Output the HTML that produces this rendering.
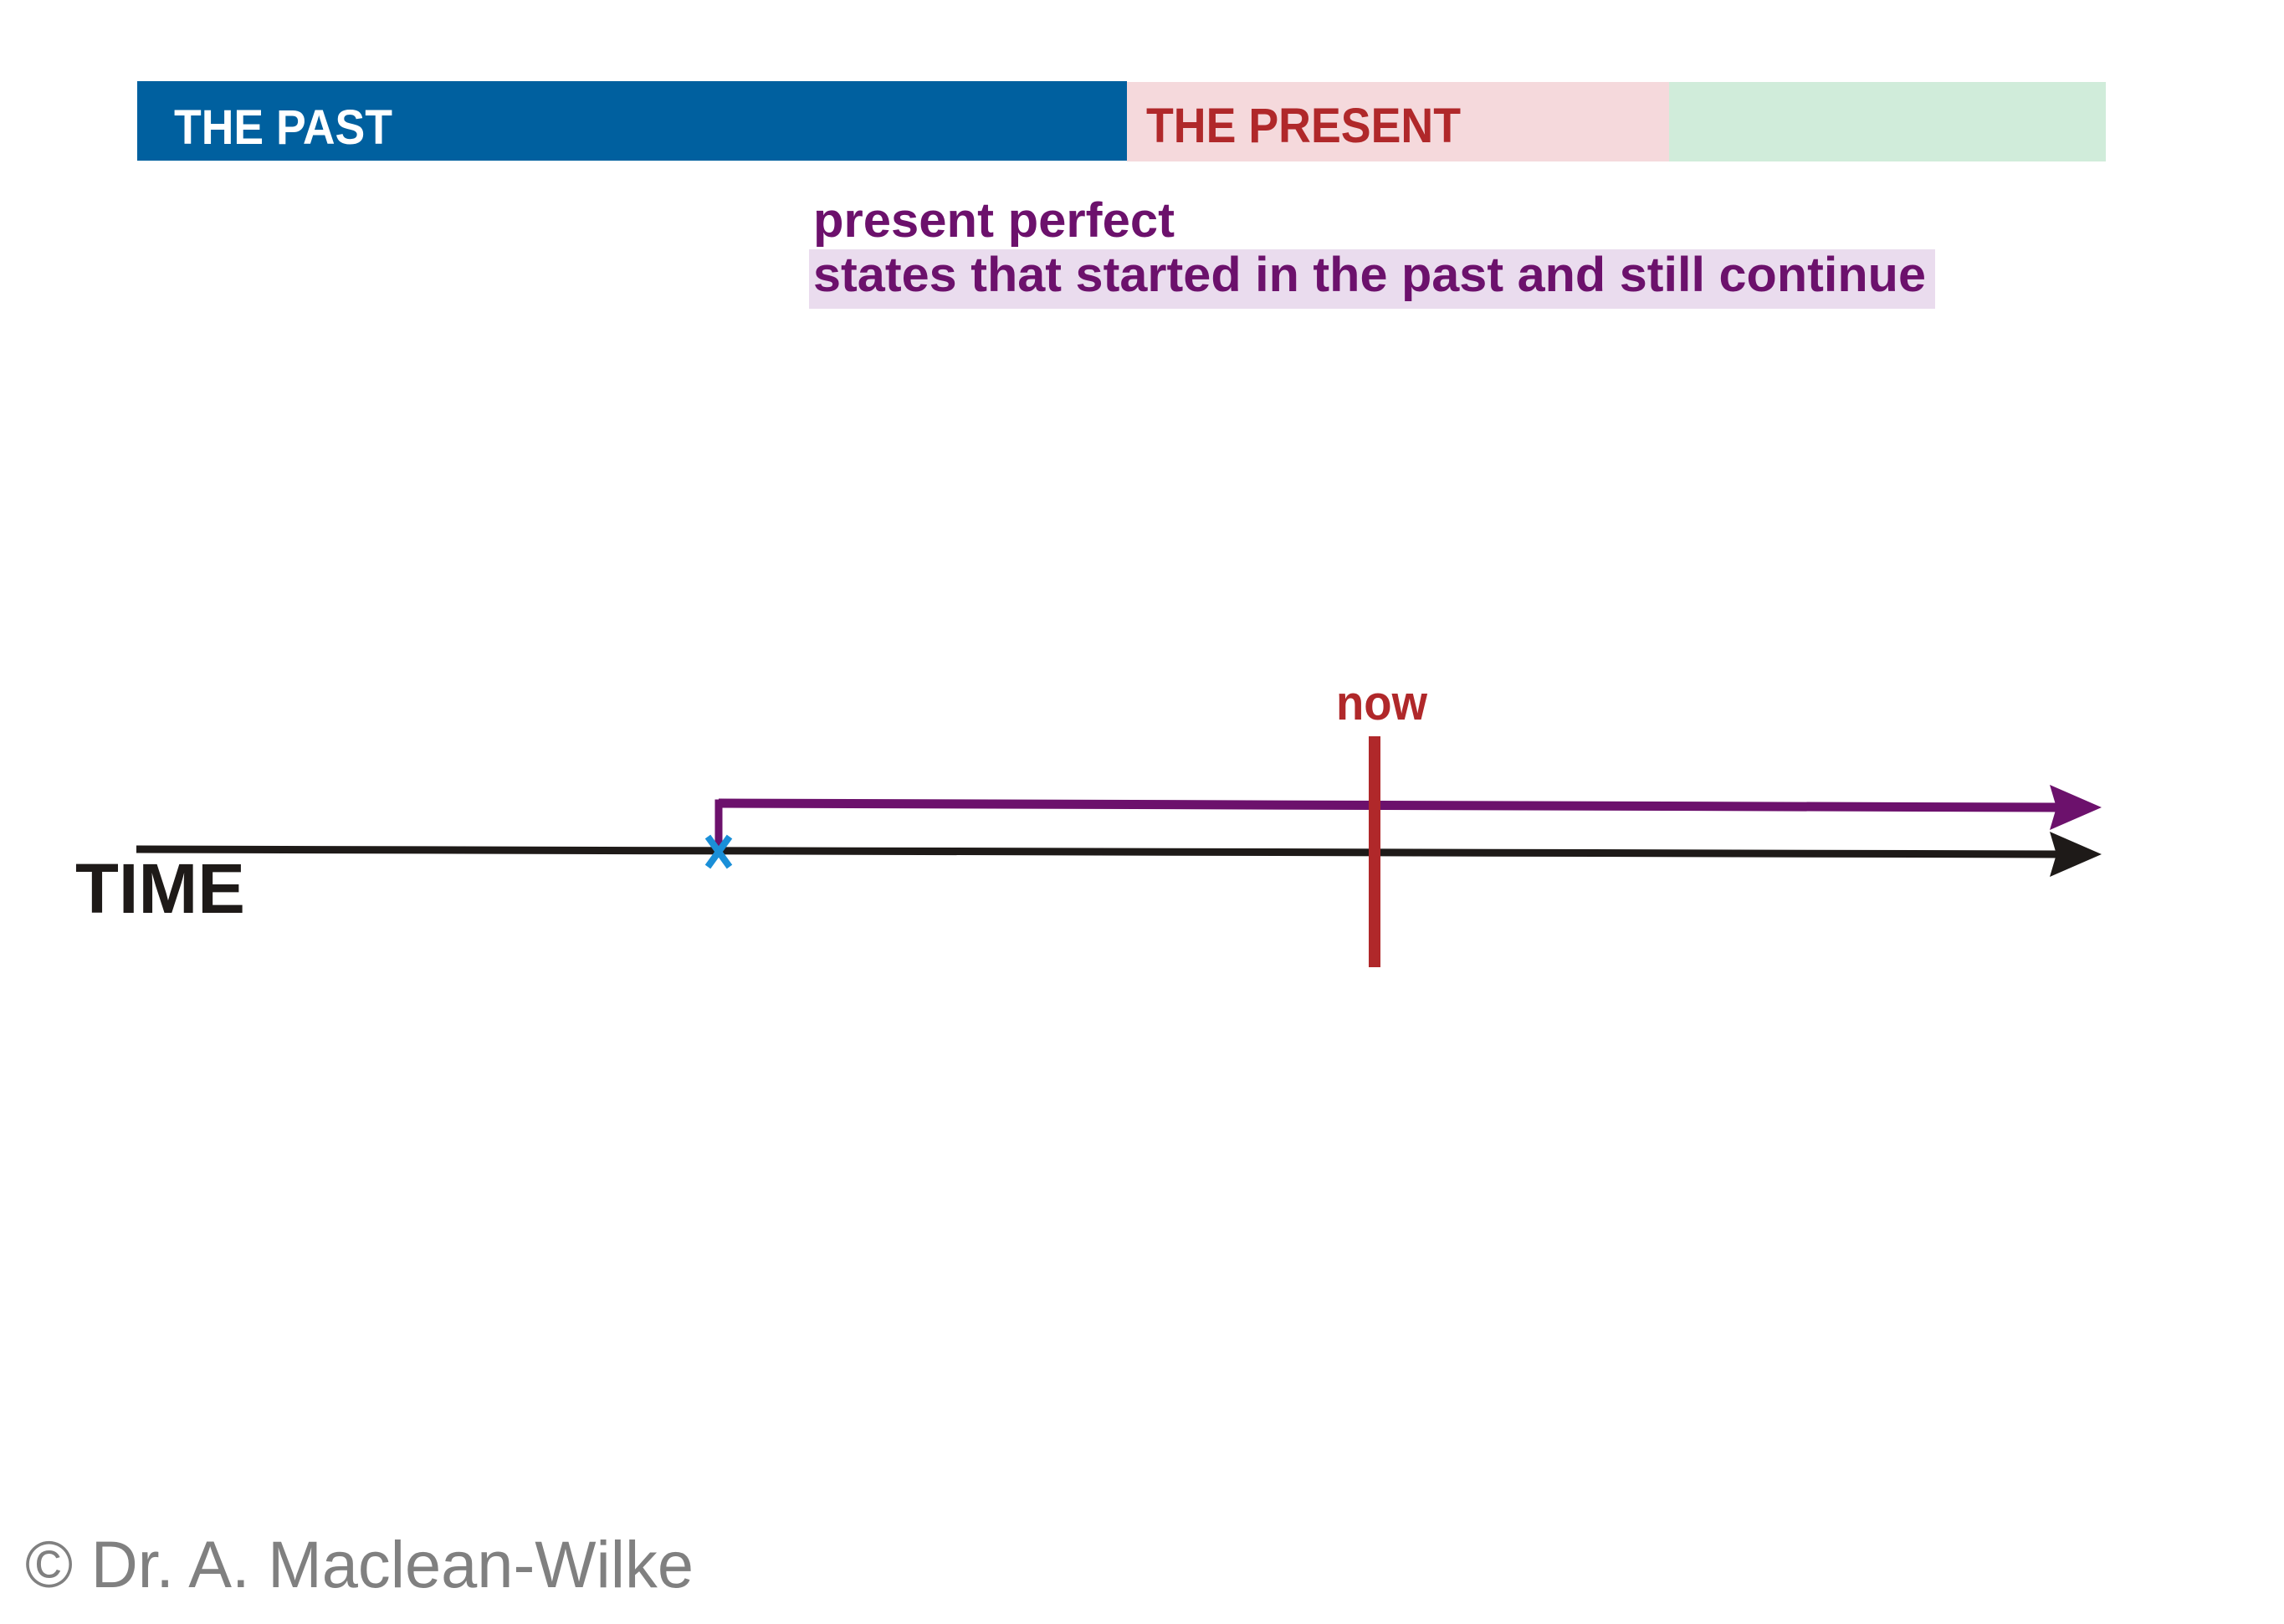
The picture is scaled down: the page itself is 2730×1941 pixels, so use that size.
<!DOCTYPE html>
<html><head><meta charset="utf-8"><style>html,body{margin:0;padding:0;background:#fff}svg{display:block}</style></head>
<body>
<svg width="2730" height="1941" viewBox="0 0 2730 1941" xmlns="http://www.w3.org/2000/svg">
<rect x="0" y="0" width="2730" height="1941" fill="#fff"/>
<rect x="164" y="97" width="1183" height="95" fill="#00609f"/>
<rect x="1347" y="98" width="648" height="95" fill="#f5d9dc"/>
<rect x="1995" y="98" width="522" height="95" fill="#d0ecda"/>
<text x="208" y="172" font-family="Liberation Sans Narrow, Liberation Sans, sans-serif" font-weight="bold" font-size="58" fill="#fff" textLength="261" lengthAdjust="spacingAndGlyphs">THE PAST</text>
<text x="1370" y="170" font-family="Liberation Sans Narrow, Liberation Sans, sans-serif" font-weight="bold" font-size="58" fill="#b0282a" textLength="376" lengthAdjust="spacingAndGlyphs">THE PRESENT</text>
<rect x="967" y="298" width="1346" height="71" fill="#eadcee"/>
<text x="972" y="283" font-family="Liberation Sans, sans-serif" font-weight="bold" font-size="58" fill="#6c116c" textLength="432" lengthAdjust="spacingAndGlyphs">present perfect</text>
<text x="972" y="348" font-family="Liberation Sans, sans-serif" font-weight="bold" font-size="58" fill="#6c116c" textLength="1330" lengthAdjust="spacingAndGlyphs">states that started in the past and still continue</text>
<text x="1597" y="860" font-family="Liberation Sans, sans-serif" font-weight="bold" font-size="58" fill="#b0282a" textLength="109" lengthAdjust="spacingAndGlyphs">now</text>
<line x1="163" y1="1015" x2="2460" y2="1021" stroke="#1e1a18" stroke-width="9"/>
<polygon points="2450,994 2512,1021 2450,1048 2458,1021" fill="#1e1a18"/>
<polyline points="859,1018 859,960 2460,965" fill="none" stroke="#6c116c" stroke-width="9"/>
<line x1="859" y1="960" x2="2460" y2="965" stroke="#6c116c" stroke-width="11"/>
<polygon points="2450,938 2512,965 2450,992 2458,965" fill="#6c116c"/>
<line x1="1643" y1="880" x2="1643" y2="1156" stroke="#b0282a" stroke-width="14"/>
<g stroke="#1a8fd8" stroke-width="8">
<line x1="846" y1="1000" x2="872" y2="1036"/>
<line x1="872" y1="1000" x2="846" y2="1036"/>
</g>
<text x="90" y="1091" font-family="Liberation Sans, sans-serif" font-weight="bold" font-size="84" fill="#1e1a18" textLength="203" lengthAdjust="spacingAndGlyphs">TIME</text>
<text x="30" y="1897" font-family="Liberation Sans, sans-serif" font-size="79" fill="#808080" textLength="799" lengthAdjust="spacingAndGlyphs">© Dr. A. Maclean-Wilke</text>
</svg>
</body></html>
